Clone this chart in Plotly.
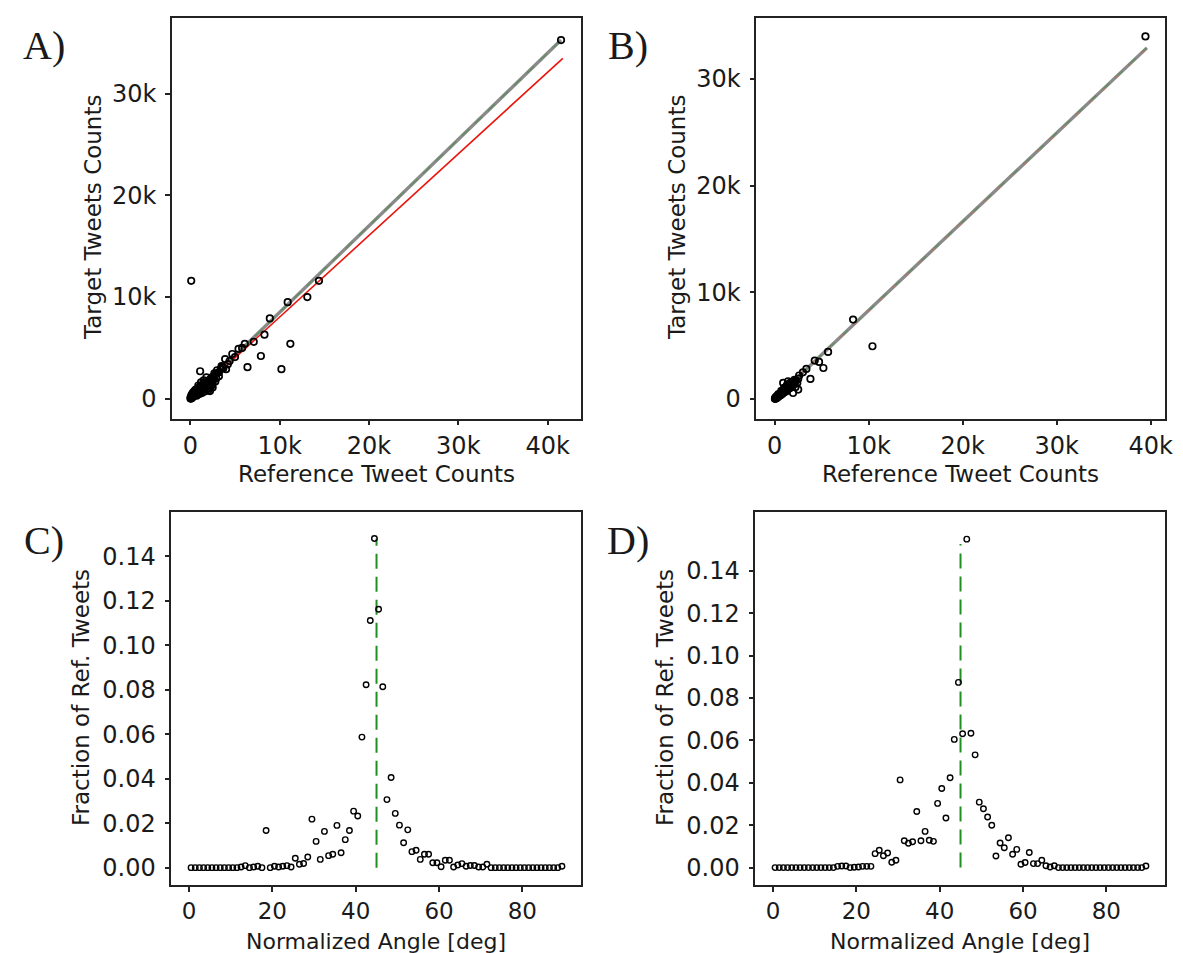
import plotly.graph_objects as go

W, H = 1183, 953

# ---------------- Panel A data (thousands of tweets) ----------------
a_ref = [0.1, 10.9, 13.1, 14.4, 8.9, 8.3, 11.2, 7.9, 6.4, 10.2, 41.5,
         6.1, 7.1, 5.4, 5.0, 4.7, 3.9, 4.4, 3.5, 4.0, 3.2, 1.1, 1.8, 2.7, 2.4, 5.8, 4.2, 3.7, 3.0,
         0.02, 0.05, 0.08, 0.1, 0.12, 0.15, 0.18, 0.2, 0.22, 0.25, 0.28, 0.3, 0.33, 0.36, 0.4,
         0.43, 0.46, 0.5, 0.55, 0.6, 0.65, 0.7, 0.75, 0.8, 0.85, 0.9, 0.95, 1.0, 1.05, 1.1,
         1.15, 1.2, 1.3, 1.35, 1.4, 1.5, 1.55, 1.6, 1.7, 1.8, 1.9, 2.0, 2.1, 2.2, 2.3, 2.4,
         2.5, 2.6, 2.8, 3.0, 0.6, 0.9, 1.2, 1.5, 0.3, 1.8, 2.0, 2.2, 2.5, 1.6, 2.8, 3.2, 0.45,
         0.7, 1.0, 1.3, 0.15, 2.45, 2.9, 1.75,
         0.05, 0.1, 0.15, 0.2, 0.25, 0.3, 0.35, 0.4, 0.5, 0.6, 0.7, 0.8, 0.9, 1.0, 1.1, 1.2,
         1.3, 1.4, 1.5, 1.6, 1.7, 1.8, 1.9, 2.0, 2.1, 2.2, 0.12, 0.28, 0.42, 0.58, 0.75, 0.95,
         1.15, 1.35, 1.55, 1.75, 1.95, 2.15, 2.35, 2.6, 3.4, 3.6, 2.0, 2.3]
a_tgt = [11.6, 9.5, 10.0, 11.6, 7.9, 6.3, 5.4, 4.2, 3.1, 2.9, 35.3,
         5.4, 5.6, 4.9, 4.1, 4.4, 3.9, 3.7, 3.2, 2.9, 2.6, 2.7, 2.1, 2.5, 2.0, 5.0, 3.4, 3.0, 2.8,
         0.01, 0.08, 0.03, 0.15, 0.05, 0.2, 0.1, 0.28, 0.12, 0.35, 0.18, 0.4, 0.22, 0.5, 0.28,
         0.55, 0.32, 0.62, 0.38, 0.7, 0.45, 0.8, 0.5, 0.9, 0.55, 1.0, 0.62, 1.1, 0.7, 1.2,
         0.8, 1.25, 0.85, 1.35, 0.9, 1.45, 1.0, 1.55, 1.1, 1.6, 1.2, 1.75, 1.3, 1.9, 1.5, 2.1,
         1.6, 2.2, 2.4, 2.5, 0.9, 1.3, 1.6, 1.8, 0.6, 0.9, 0.8, 0.75, 1.1, 0.7, 1.7, 2.2, 0.75,
         0.3, 0.45, 0.55, 0.4, 1.35, 2.0, 1.4,
         0.12, 0.06, 0.25, 0.16, 0.3, 0.24, 0.42, 0.35, 0.5, 0.55, 0.66, 0.72, 0.85, 0.9, 1.0,
         1.05, 1.15, 1.2, 1.3, 1.35, 1.45, 1.5, 1.6, 1.65, 1.75, 1.8, 0.2, 0.3, 0.45, 0.62, 0.7,
         0.85, 1.05, 1.1, 1.25, 1.3, 1.55, 1.6, 1.8, 2.0, 2.9, 3.1, 1.0, 1.2]
a_fit_x = [0.0, 41.5]
a_fit_y = [0.0, 35.3]
a_red_x = [0.0, 41.7]
a_red_y = [0.0, 33.5]

# ---------------- Panel B data (thousands of tweets) ----------------
b_ref = [39.45, 8.34, 10.4, 5.68, 4.72, 5.18, 4.26, 3.8, 3.37, 3.0, 2.6, 0.9, 2.5, 1.95, 2.2,
         1.42, 0.02, 0.05, 0.08, 0.1, 0.14, 0.18, 0.22, 0.26, 0.3, 0.35, 0.4, 0.45, 0.5, 0.55,
         0.6, 0.66, 0.72, 0.8, 0.86, 0.92, 1.0, 1.08, 1.15, 1.22, 1.3, 1.4, 1.5, 1.6, 1.7,
         1.8, 1.9, 2.0, 2.1, 2.3, 2.5, 0.4, 0.7, 1.0, 1.3, 1.7, 2.1, 1.2, 1.6, 2.4, 0.25, 0.6,
         0.12, 0.2, 0.32, 0.48, 0.62, 0.78, 0.95, 1.12, 1.28, 1.45, 1.62, 1.78, 1.95, 2.2,
         0.35, 0.55, 0.85, 1.05, 1.35, 1.55, 1.85]
b_tgt = [33.97, 7.44, 4.94, 4.41, 3.47, 2.9, 3.6, 1.88, 2.81, 2.5, 2.2, 1.5, 0.88, 0.56, 1.1,
         1.66, 0.01, 0.07, 0.03, 0.12, 0.06, 0.18, 0.1, 0.25, 0.15, 0.32, 0.22, 0.4, 0.3, 0.48,
         0.36, 0.56, 0.42, 0.66, 0.5, 0.78, 0.62, 0.9, 0.72, 1.0, 0.85, 1.1, 0.95, 1.25, 1.1,
         1.4, 1.3, 1.6, 1.45, 1.75, 1.9, 0.45, 0.75, 1.05, 1.3, 1.55, 1.8, 0.7, 1.0, 1.5, 0.3, 0.35,
         0.14, 0.2, 0.24, 0.38, 0.5, 0.6, 0.74, 0.88, 1.02, 1.18, 1.3, 1.42, 1.55, 1.7,
         0.2, 0.42, 0.6, 0.8, 1.05, 1.2, 1.45]
b_fit_x = [0.0, 39.6]
b_fit_y = [0.0, 32.9]
b_red_x = [0.0, 39.6]
b_red_y = [0.0, 32.8]

# ---------------- Panels C / D data ----------------
angles = [0.5 + i for i in range(90)]
c_frac = [0.0] * 12 + [
    0.0003, 0.0009, 0.0, 0.0003, 0.0006, 0.0, 0.0167, 0.0, 0.0006, 0.0003,
    0.0006, 0.0009, 0.0003, 0.0042, 0.0015, 0.0019, 0.0048, 0.0218, 0.0118, 0.0037,
    0.0163, 0.0054, 0.0060, 0.0190, 0.0067, 0.0126, 0.0167, 0.0254, 0.0232, 0.0587,
    0.0822, 0.1111, 0.1480, 0.1162, 0.0813, 0.0306, 0.0405, 0.0244, 0.0191, 0.0112,
    0.0170, 0.0072, 0.0078, 0.0037, 0.0060, 0.0060, 0.0022, 0.0022, 0.0004, 0.0033,
    0.0033, 0.0003, 0.0012, 0.0018, 0.0006, 0.0010, 0.0010, 0.0003, 0.0003, 0.0015,
] + [0.0] * 17 + [0.0006]
d_frac = [0.0] * 15 + [
    0.0006, 0.0008, 0.0008, 0.0, 0.0002, 0.0003, 0.0006, 0.0006, 0.0006,
    0.0066, 0.0082, 0.0056, 0.0069, 0.0025, 0.0035, 0.0414, 0.0127, 0.0115, 0.0122,
    0.0265, 0.0127, 0.0171, 0.0129, 0.0124, 0.0303, 0.0373, 0.0234, 0.0424, 0.0605,
    0.0874, 0.0632, 0.1550, 0.0634, 0.0532, 0.0309, 0.0278, 0.0239, 0.0200, 0.0055,
    0.0116, 0.0094, 0.0141, 0.0063, 0.0086, 0.0016, 0.0024, 0.0071, 0.0019, 0.0019,
    0.0035, 0.0009, 0.0003, 0.0009,
] + [0.0] * 21 + [0.0008]
ref_angle = 45

k_ticks = [0, 10000, 20000, 30000, 40000]
k_text = ["0", "10k", "20k", "30k", "40k"]
y_k_ticks = [0, 10000, 20000, 30000]
y_k_text = ["0", "10k", "20k", "30k"]
ang_ticks = [0, 20, 40, 60, 80]
frac_ticks = [0.0, 0.02, 0.04, 0.06, 0.08, 0.10, 0.12, 0.14]

FONT = "DejaVu Sans"
TXT = "#1a1a1a"


def px_x(p):
    return p / W


def px_y(p):
    return 1 - p / H


fig = go.Figure()

# Panel A
fig.add_trace(go.Scatter(x=[v * 1000 for v in a_fit_x], y=[v * 1000 for v in a_fit_y], mode="lines",
                         line=dict(color="#8a8a8a", width=3.4), xaxis="x", yaxis="y", showlegend=False))
fig.add_trace(go.Scatter(x=[v * 1000 for v in a_fit_x], y=[v * 1000 for v in a_fit_y], mode="lines",
                         line=dict(color="#3f8f3f", width=1.5, dash="10px,8px"), opacity=0.5,
                         xaxis="x", yaxis="y", showlegend=False))
fig.add_trace(go.Scatter(x=[v * 1000 for v in a_red_x], y=[v * 1000 for v in a_red_y], mode="lines",
                         line=dict(color="#e8140c", width=1.6), xaxis="x", yaxis="y", showlegend=False))
fig.add_trace(go.Scatter(x=[v * 1000 for v in a_ref], y=[v * 1000 for v in a_tgt], mode="markers",
                         marker=dict(symbol="circle-open", size=6.5, color="black", line=dict(width=1.7)),
                         xaxis="x", yaxis="y", showlegend=False))

# Panel B
fig.add_trace(go.Scatter(x=[v * 1000 for v in b_fit_x], y=[v * 1000 for v in b_fit_y], mode="lines",
                         line=dict(color="#8a8a8a", width=3.4), xaxis="x2", yaxis="y2", showlegend=False))
fig.add_trace(go.Scatter(x=[v * 1000 for v in b_fit_x], y=[v * 1000 for v in b_fit_y], mode="lines",
                         line=dict(color="#3f8f3f", width=1.5, dash="10px,8px"), opacity=0.5,
                         xaxis="x2", yaxis="y2", showlegend=False))
fig.add_trace(go.Scatter(x=[v * 1000 for v in b_red_x], y=[v * 1000 for v in b_red_y], mode="lines",
                         line=dict(color="#d87070", width=1.4, dash="4px,14px"), opacity=0.7,
                         xaxis="x2", yaxis="y2", showlegend=False))
fig.add_trace(go.Scatter(x=[v * 1000 for v in b_ref], y=[v * 1000 for v in b_tgt], mode="markers",
                         marker=dict(symbol="circle-open", size=6.5, color="black", line=dict(width=1.7)),
                         xaxis="x2", yaxis="y2", showlegend=False))

# Panel C
fig.add_trace(go.Scatter(x=[ref_angle, ref_angle], y=[0, max(c_frac)], mode="lines",
                         line=dict(color="#1f8f1f", width=2, dash="15px,8px"),
                         xaxis="x3", yaxis="y3", showlegend=False))
fig.add_trace(go.Scatter(x=angles, y=c_frac, mode="markers",
                         marker=dict(symbol="circle-open", size=5.5, color="black", line=dict(width=1.4)),
                         xaxis="x3", yaxis="y3", showlegend=False))

# Panel D
fig.add_trace(go.Scatter(x=[ref_angle, ref_angle], y=[0, max(d_frac) * 0.985], mode="lines",
                         line=dict(color="#1f8f1f", width=2, dash="15px,8px"),
                         xaxis="x4", yaxis="y4", showlegend=False))
fig.add_trace(go.Scatter(x=angles, y=d_frac, mode="markers",
                         marker=dict(symbol="circle-open", size=5.5, color="black", line=dict(width=1.4)),
                         xaxis="x4", yaxis="y4", showlegend=False))

axis_common = dict(showline=True, mirror=True, linecolor="#222222", linewidth=1.5,
                   ticks="outside", ticklen=5, tickwidth=1.5, tickcolor="#222222",
                   showgrid=False, zeroline=False, automargin=False,
                   tickfont=dict(family=FONT, size=24, color=TXT))
xstand = dict(ticklabelstandoff=0)
ystand = dict(ticklabelstandoff=4)
bottom_x_font = dict(tickfont=dict(family=FONT, size=23, color=TXT))

top_y = [px_y(410.7), px_y(10)]
bot_y = [px_y(877), px_y(504)]

fig.update_layout(
    width=W, height=H, margin=dict(l=0, r=0, t=0, b=0),
    paper_bgcolor="white", plot_bgcolor="white",
    xaxis=dict(domain=[px_x(164), px_x(572.7)], range=[-2050, 43700], tickvals=k_ticks, ticktext=k_text,
               anchor="y", **axis_common, **xstand),
    yaxis=dict(domain=top_y, range=[-1970, 37470], tickvals=y_k_ticks, ticktext=y_k_text,
               anchor="x", **axis_common, **ystand),
    xaxis2=dict(domain=[px_x(748.3), px_x(1156.7)], range=[-1960, 41500], tickvals=k_ticks, ticktext=k_text,
                anchor="y2", **axis_common, **xstand),
    yaxis2=dict(domain=top_y, range=[-1850, 35700], tickvals=y_k_ticks, ticktext=y_k_text,
                anchor="x2", **axis_common, **ystand),
    xaxis3=dict(domain=[px_x(163.3), px_x(572.7)], range=[-4.25, 94], tickvals=ang_ticks,
                anchor="y3", **axis_common, **xstand),
    yaxis3=dict(domain=bot_y, range=[-0.0078, 0.1599], tickvals=frac_ticks, tickformat=".2f",
                anchor="x3", **axis_common, **ystand),
    xaxis4=dict(domain=[px_x(747.3), px_x(1156.7)], range=[-4.25, 94], tickvals=ang_ticks,
                anchor="y4", **axis_common, **xstand),
    yaxis4=dict(domain=bot_y, range=[-0.0082, 0.1678], tickvals=frac_ticks, tickformat=".2f",
                anchor="x4", **axis_common, **ystand),
)
fig.update_layout(xaxis3=bottom_x_font, xaxis4=bottom_x_font)

ann = []


def add_text(text, x, y, size, family, angle=0):
    ann.append(dict(text=text, x=px_x(x), y=px_y(y), xref="paper", yref="paper",
                    showarrow=False, textangle=angle, xanchor="center", yanchor="middle",
                    borderpad=0, font=dict(family=family, size=size, color=TXT)))


# axis titles
add_text("Reference Tweet Counts", 368.5, 466, 23, FONT)
add_text("Reference Tweet Counts", 952.5, 466, 23, FONT)
add_text("Target Tweets Counts", 85, 210, 23, FONT, -90)
add_text("Target Tweets Counts", 669, 210, 23, FONT, -90)
add_text("Normalized Angle [deg]", 368, 933, 22, FONT)
add_text("Normalized Angle [deg]", 952, 933, 22, FONT)
add_text("Fraction of Ref. Tweets", 73, 690, 23, FONT, -90)
add_text("Fraction of Ref. Tweets", 657, 690, 23, FONT, -90)

# panel labels
for lab, x, y in [("A)", 36, 37), ("B)", 620, 37), ("C)", 36, 532), ("D)", 620, 532)]:
    add_text(lab, x, y, 40, "Liberation Serif")

fig.update_layout(annotations=ann)

fig.write_html("out.html")
